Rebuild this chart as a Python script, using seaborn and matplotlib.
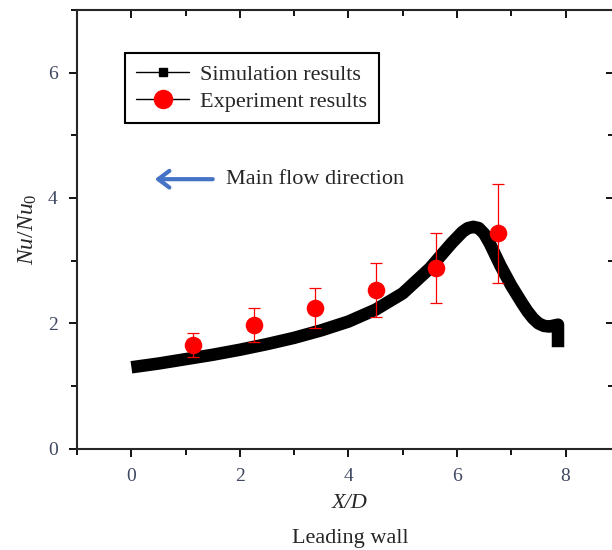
import numpy as np
import pandas as pd
import seaborn as sns
import matplotlib.pyplot as plt
from matplotlib.ticker import MultipleLocator

# simulation curve
sim_x = [0.0, 0.5, 1.0, 1.5, 2.0, 2.5, 3.0, 3.5, 4.0, 4.5, 5.0, 5.5, 5.7, 5.9, 6.1, 6.2, 6.3,
         6.4, 6.5, 6.6, 6.7, 6.8, 6.9, 7.0, 7.1, 7.2, 7.3, 7.4, 7.5, 7.6, 7.7, 7.86, 7.86]
sim_y = [1.30, 1.36, 1.43, 1.50, 1.58, 1.67, 1.77, 1.89, 2.03, 2.22, 2.48, 2.88, 3.08, 3.28, 3.46, 3.52, 3.54,
         3.52, 3.43, 3.28, 3.10, 2.92, 2.76, 2.60, 2.46, 2.32, 2.19, 2.08, 2.00, 1.96, 1.95, 1.98, 1.62]

# experiment points with error bars
exp_x = [1.14, 2.26, 3.38, 4.50, 5.62, 6.76]
exp_y = [1.65, 1.98, 2.24, 2.53, 2.89, 3.44]
exp_lo = [1.47, 1.71, 1.92, 2.11, 2.33, 2.65]
exp_hi = [1.84, 2.25, 2.57, 2.96, 3.44, 4.22]

df_sim = pd.DataFrame({'x': sim_x, 'y': sim_y})
df_exp = pd.DataFrame({'x': exp_x, 'y': exp_y})

sns.set_style('ticks')
plt.rcParams['font.family'] = ['Liberation Serif', 'DejaVu Serif']
plt.rcParams['mathtext.fontset'] = 'custom'
plt.rcParams['mathtext.it'] = 'Liberation Serif:italic'
plt.rcParams['mathtext.rm'] = 'Liberation Serif'

fig = plt.figure(figsize=(6.12, 5.5), dpi=100)
ax = fig.add_axes([0.126, 0.184, 0.878, 0.798])

sns.lineplot(x='x', y='y', data=df_sim, color='black', linewidth=9, sort=False,
             estimator=None, ax=ax, legend=False,
             solid_capstyle='butt', solid_joinstyle='round')
err = [np.array(exp_y) - np.array(exp_lo), np.array(exp_hi) - np.array(exp_y)]
ax.errorbar(exp_x, exp_y, yerr=err, fmt='none', ecolor='red', elinewidth=0.9,
            capsize=4, capthick=0.9, zorder=3)
sns.scatterplot(x='x', y='y', data=df_exp, color='red', s=160, edgecolor='red',
                linewidth=0, zorder=4, ax=ax, legend=False)

ax.set_xlim(-1, 8.9)
ax.set_ylim(0, 7)
ax.xaxis.set_major_locator(MultipleLocator(2))
ax.xaxis.set_minor_locator(MultipleLocator(1))
ax.yaxis.set_major_locator(MultipleLocator(2))
ax.yaxis.set_minor_locator(MultipleLocator(1))
ax.tick_params(which='both', direction='out', width=1.3, colors='black',
               labelcolor='#3f4862', labelsize=14)
ax.tick_params(which='major', length=6, pad=8)
ax.tick_params(which='minor', length=4)
ax.tick_params(which='both', top=True, right=True)
for spine in ax.spines.values():
    spine.set_visible(True)
    spine.set_linewidth(1.5)
# top and right ticks point inward
for t in ax.xaxis.get_ticklines(minor=False)[1::2] + ax.xaxis.get_ticklines(minor=True)[1::2]:
    t.set_marker(3)
for t in ax.yaxis.get_ticklines(minor=False)[1::2] + ax.yaxis.get_ticklines(minor=True)[1::2]:
    t.set_marker(0)

ax.set_xlabel('')
ax.set_ylabel(r'$Nu/Nu_0$', fontsize=17, labelpad=6)
fig.text(0.572, 0.085, 'X/D', fontsize=16, style='italic', ha='center', va='center')
fig.text(0.572, 0.021, 'Leading wall', fontsize=16, ha='center', va='center')

# legend
h1, = ax.plot([], [], color='black', lw=1, marker='s', markersize=6)
h2, = ax.plot([], [], color='black', lw=1, marker='o', markersize=13,
              markerfacecolor='red', markeredgecolor='red')
leg = ax.legend([h1, h2], ['Simulation results', 'Experiment results'],
                loc='upper left', bbox_to_anchor=(0.089, 0.902), borderaxespad=0,
                fontsize=16, fancybox=False, framealpha=1, edgecolor='black',
                handlelength=2.4, handletextpad=0.5, borderpad=0.5,
                labelspacing=0.3)
leg.get_frame().set_linewidth(1.5)

# flow direction arrow
ax.annotate('', xy=(0.38, 4.3), xytext=(1.55, 4.3),
            arrowprops=dict(arrowstyle='->,head_length=0.8,head_width=0.6',
                            color='#4472C4', lw=3))
ax.text(1.75, 4.3, 'Main flow direction', fontsize=16, va='center', ha='left')

fig.savefig('out.png', dpi=100)
